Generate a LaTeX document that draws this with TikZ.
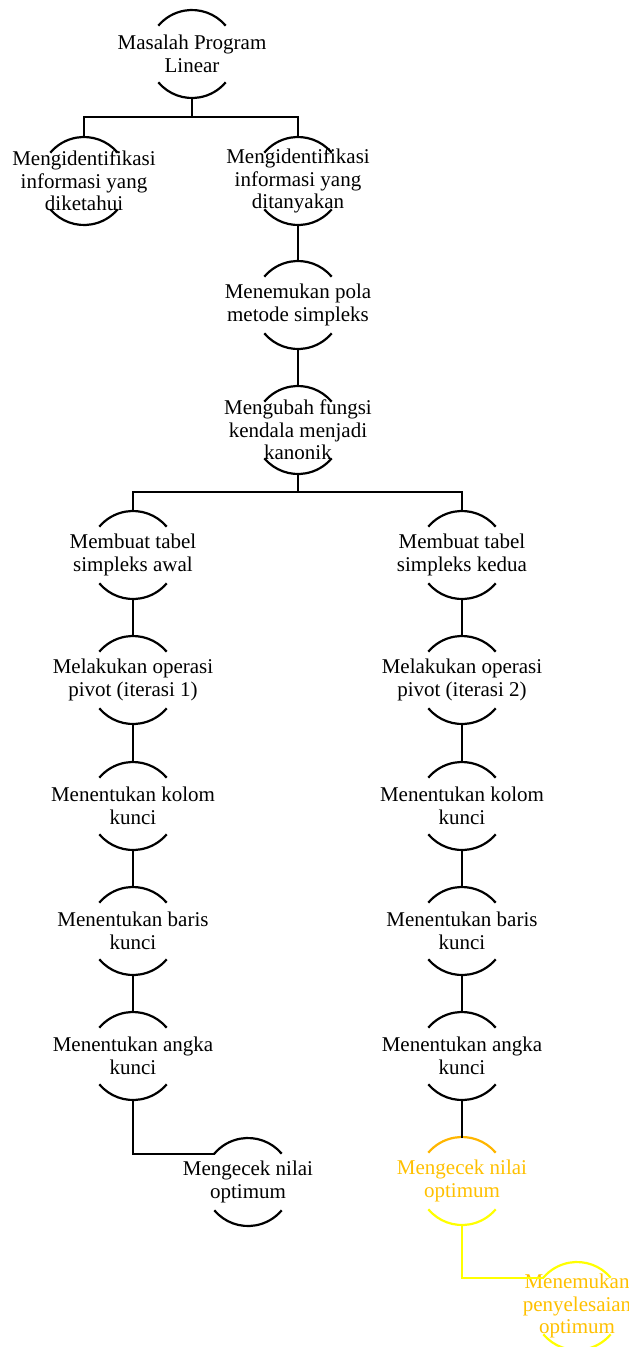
\documentclass[tikz,border=0pt]{standalone}
\usepackage{fontspec}
\setmainfont{Liberation Serif}
\definecolor{goldtxt}{RGB}{255,192,0}
\definecolor{goldarc}{RGB}{255,182,0}
\definecolor{yel}{RGB}{255,255,0}
\tikzset{
  ring/.style={circle,draw=none,minimum size=88pt,inner sep=0pt,outer sep=0pt},
  lbl/.style={align=center,inner sep=0pt,font=\fontsize{21}{22.5}\selectfont},
  link/.style={line width=2.2pt,line cap=rect},
  arcline/.style={line width=2.2pt}
}
% #1 top arc colour, #2 bottom arc colour, #3 text colour, #4 name, #5 x, #6 y, #7 text
\newcommand\ringnode[7]{%
  \node[ring] (#4) at (#5pt,-#6pt) {};
  \node[lbl,text=#3] (#4-t) at (#4.center) {#7};
  \draw[arcline,#1] (#4.40) arc[start angle=40,end angle=140,radius=44pt];
  \draw[arcline,#2] (#4.220) arc[start angle=220,end angle=320,radius=44pt];
}
\begin{document}
\begin{tikzpicture}[x=1pt,y=1pt]
\useasboundingbox (0,0) rectangle (629,-1347);
\ringnode{black}{black}{black}{root}{192}{54}{Masalah Program\\Linear}
\ringnode{black}{black}{black}{idA}{84}{181}{Mengidentifikasi\\informasi yang\\diketahui}
\ringnode{black}{black}{black}{idB}{298}{181}{Mengidentifikasi\\informasi yang\\ditanyakan}
\ringnode{black}{black}{black}{pola}{298}{305}{Menemukan pola\\metode simpleks}
\ringnode{black}{black}{black}{ubah}{298}{430}{Mengubah fungsi\\kendala menjadi\\kanonik}
\ringnode{black}{black}{black}{awal}{133}{555}{Membuat tabel\\simpleks awal}
\ringnode{black}{black}{black}{kedua}{462}{555}{Membuat tabel\\simpleks kedua}
\ringnode{black}{black}{black}{pivA}{133}{680}{Melakukan operasi\\pivot (iterasi 1)}
\ringnode{black}{black}{black}{pivB}{462}{680}{Melakukan operasi\\pivot (iterasi 2)}
\ringnode{black}{black}{black}{kolA}{133}{806}{Menentukan kolom\\kunci}
\ringnode{black}{black}{black}{kolB}{462}{806}{Menentukan kolom\\kunci}
\ringnode{black}{black}{black}{barA}{133}{931}{Menentukan baris\\kunci}
\ringnode{black}{black}{black}{barB}{462}{931}{Menentukan baris\\kunci}
\ringnode{black}{black}{black}{angA}{133}{1056}{Menentukan angka\\kunci}
\ringnode{black}{black}{black}{angB}{462}{1056}{Menentukan angka\\kunci}
\ringnode{black}{black}{black}{cekA}{248}{1182}{Mengecek nilai\\optimum}
\ringnode{goldarc}{yel}{goldtxt}{cekB}{462}{1181}{Mengecek nilai\\optimum}
\ringnode{yel}{yel}{goldtxt}{hasil}{577}{1306}{Menemukan\\penyelesaian\\optimum}
% connectors
\draw[link] (root.south) -- ++(0,-19) -| (idA.north);
\draw[link] (root.south) -- ++(0,-19) -| (idB.north);
\draw[link] (idB.south) -- (pola.north);
\draw[link] (pola.south) -- (ubah.north);
\draw[link] (ubah.south) -- ++(0,-18) -| (awal.north);
\draw[link] (ubah.south) -- ++(0,-18) -| (kedua.north);
\draw[link] (awal.south) -- (pivA.north);
\draw[link] (pivA.south) -- (kolA.north);
\draw[link] (kolA.south) -- (barA.north);
\draw[link] (barA.south) -- (angA.north);
\draw[link] (angA.south) |- (cekA.140);
\draw[link] (kedua.south) -- (pivB.north);
\draw[link] (pivB.south) -- (kolB.north);
\draw[link] (kolB.south) -- (barB.north);
\draw[link] (barB.south) -- (angB.north);
\draw[link] (angB.south) -- (cekB.north);
\draw[link,yel] (cekB.south) |- (hasil.140);
\end{tikzpicture}
\end{document}
